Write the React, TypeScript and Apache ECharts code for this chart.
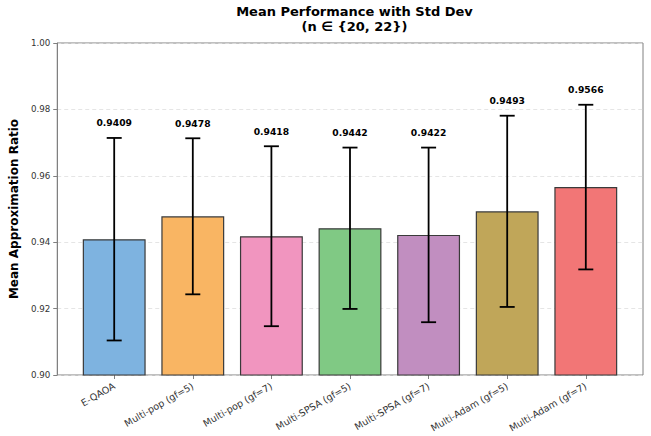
import React, { useEffect, useRef } from "react";
import * as echarts from "echarts";

const categories = [
  "E-QAOA",
  "Multi-pop (gf=5)",
  "Multi-pop (gf=7)",
  "Multi-SPSA (gf=5)",
  "Multi-SPSA (gf=7)",
  "Multi-Adam (gf=5)",
  "Multi-Adam (gf=7)",
];
const means = [0.9409, 0.9478, 0.9418, 0.9442, 0.9422, 0.9493, 0.9566];
const stds = [0.0305, 0.0235, 0.0271, 0.0243, 0.0263, 0.0288, 0.0248];
const colors = ["#7EB3E0", "#F9B563", "#F195BF", "#80C984", "#C18EC0", "#C0A659", "#F27676"];
const yTicks = { min: 0.9, max: 1.0, interval: 0.02 };

const FONT = "DejaVu Sans";

export default function App() {
  const ref = useRef<HTMLDivElement>(null);
  useEffect(() => {
    if (!ref.current) return;
    const chart = echarts.init(ref.current, null, { renderer: "svg" });
    const frame = { left: 56, top: 43, width: 587, height: 332 };
    const band = 78.6;
    const firstCenter = 114.2;
    const bandGrid = {
      left: firstCenter - band / 2,
      top: frame.top,
      width: band * categories.length,
      height: frame.height,
    };
    chart.setOption({
      animation: false,
      textStyle: { fontFamily: FONT },
      title: {
        text: "Mean Performance with Std Dev\n(n ∈ {20, 22})",
        left: 349.5,
        top: -1,
        textAlign: "center",
        textStyle: {
          fontFamily: FONT,
          fontSize: 13,
          fontWeight: "bold",
          color: "#000",
          lineHeight: 15,
        },
      },
      grid: [
        { ...frame, show: true, borderColor: "#808080", borderWidth: 1, backgroundColor: "transparent" },
        { ...bandGrid },
      ],
      xAxis: [
        { gridIndex: 0, type: "value", show: false, min: 0, max: 1 },
        {
          gridIndex: 1,
          type: "category",
          data: categories,
          axisLine: { show: false },
          axisTick: { show: true, alignWithLabel: true, length: 4, lineStyle: { color: "#808080" } },
          axisLabel: {
            rotate: 30,
            fontSize: 9.5,
            color: "#333",
            margin: 10,
            fontFamily: FONT,
            interval: 0,
          },
        },
      ],
      yAxis: [
        {
          gridIndex: 0,
          type: "value",
          min: yTicks.min,
          max: yTicks.max,
          interval: yTicks.interval,
          axisLine: { show: true, lineStyle: { color: "#808080" } },
          axisTick: { show: true, length: 4, lineStyle: { color: "#808080" } },
          axisLabel: {
            formatter: (v: number) => v.toFixed(2),
            fontSize: 8.7,
            color: "#333",
            margin: 7,
            fontFamily: FONT,
          },
          splitLine: { show: true, lineStyle: { color: "#dedede", type: [4, 3], width: 0.8 } },
          name: "Mean Approximation Ratio",
          nameLocation: "middle",
          nameGap: 31,
          nameTextStyle: { fontFamily: FONT, fontSize: 12, fontWeight: "bold", color: "#000" },
        },
        { gridIndex: 1, type: "value", min: yTicks.min, max: yTicks.max, show: false },
      ],
      series: [
        {
          type: "bar",
          xAxisIndex: 1,
          yAxisIndex: 1,
          barWidth: "80%",
          clip: true,
          data: means.map((m, i) => ({
            value: m,
            itemStyle: { color: colors[i], borderColor: "#3a3a3a", borderWidth: 1.2 },
          })),
          z: 2,
        },
        {
          type: "custom",
          xAxisIndex: 1,
          yAxisIndex: 1,
          z: 5,
          data: means.map((m, i) => [i, m, stds[i]]),
          encode: { x: 0, y: 1 },
          renderItem: (params: any, api: any) => {
            const i = api.value(0);
            const m = api.value(1);
            const s = api.value(2);
            const top = api.coord([i, m + s]);
            const bot = api.coord([i, m - s]);
            const cap = 7.5;
            const ls = { stroke: "#000", lineWidth: 1.8 };
            return {
              type: "group",
              children: [
                { type: "line", shape: { x1: top[0], y1: top[1], x2: bot[0], y2: bot[1] }, style: ls },
                { type: "line", shape: { x1: top[0] - cap, y1: top[1], x2: top[0] + cap, y2: top[1] }, style: ls },
                { type: "line", shape: { x1: bot[0] - cap, y1: bot[1], x2: bot[0] + cap, y2: bot[1] }, style: ls },
                {
                  type: "text",
                  x: top[0],
                  y: top[1] - 15,
                  style: {
                    text: m.toFixed(4),
                    fontFamily: FONT,
                    fontSize: 9.2,
                    fontWeight: "bold",
                    fill: "#000",
                    align: "center",
                    verticalAlign: "middle",
                  },
                },
              ],
            };
          },
        },
      ],
    });
    return () => chart.dispose();
  }, []);
  return (
    <div
      ref={ref}
      style={{ position: "fixed", left: 0, top: 0, width: 651, height: 436, background: "#fff" }}
    />
  );
}
